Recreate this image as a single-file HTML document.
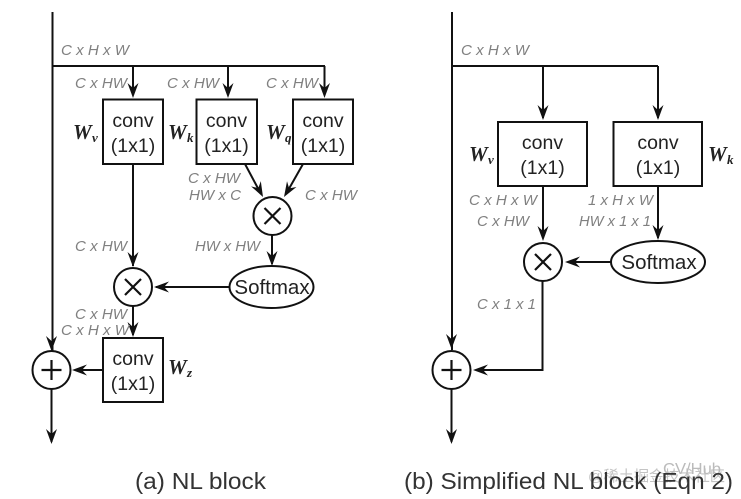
<!DOCTYPE html>
<html><head><meta charset="utf-8">
<style>
html,body{margin:0;padding:0;background:#fff;width:741px;height:499px;overflow:hidden}
svg{display:block}
.l{fill:none;stroke:#111;stroke-width:2}
.b{fill:#fff;stroke:#111;stroke-width:2}
.t{font:19.5px "Liberation Sans",sans-serif;fill:#222;text-anchor:middle}
.m{font:20.5px "Liberation Sans",sans-serif;fill:#222;text-anchor:middle}
.g{font:italic 15px "Liberation Sans",sans-serif;fill:#808080}
.w{font:italic 700 21px "Liberation Serif",serif;fill:#222}
.s{font:italic 700 13px "Liberation Serif",serif;fill:#222}
.c{font:23px "Liberation Sans",sans-serif;fill:#333}
</style></head><body>
<svg width="741" height="499" viewBox="0 0 741 499" xmlns="http://www.w3.org/2000/svg">
<defs>
<path id="a" d="M0 0 L-5.500 -15 L0 -10 L5.500 -15 Z" fill="#111"/>
</defs>
<text x="588" y="481" font-family="'Liberation Sans','Noto Sans CJK SC',sans-serif" font-size="15" fill="#c4c4c4" textLength="137" lengthAdjust="spacingAndGlyphs">@稀土掘金技术社区</text>
<text x="663" y="474" font-family="'Liberation Sans',sans-serif" font-size="16" fill="#bbb" textLength="58" lengthAdjust="spacingAndGlyphs">CV/Hub</text>

<!-- left -->
<path class="l" d="M52.500 12V352M52.500 66H325M133 66V95M228 66V95M324.500 66V95"/>
<use href="#a" transform="translate(133,98)"/>
<use href="#a" transform="translate(228,98)"/>
<use href="#a" transform="translate(324.500,98)"/>
<use href="#a" transform="translate(51.500,351)"/>
<path class="l" d="M51.500 389V442M133 164V266M133 306V335M272 235V264M245 164L261 194M303 164L286 194M230 287H156M103 370H75"/>
<use href="#a" transform="translate(51.500,444)"/>
<use href="#a" transform="translate(133,267)"/>
<use href="#a" transform="translate(133,337)"/>
<use href="#a" transform="translate(272,266)"/>
<use href="#a" transform="translate(263,197) rotate(-28)"/>
<use href="#a" transform="translate(284,197) rotate(31)"/>
<use href="#a" transform="translate(154,287) rotate(90)"/>
<use href="#a" transform="translate(72,370) rotate(90)"/>

<rect class="b" x="103" y="99.500" width="60" height="64.500"/>
<rect class="b" x="196.500" y="99.500" width="60.500" height="64.500"/>
<rect class="b" x="293" y="99.500" width="60" height="64.500"/>
<rect class="b" x="103" y="338" width="60" height="64"/>
<circle class="b" cx="51.500" cy="370" r="19"/>
<circle class="b" cx="133" cy="287" r="19"/>
<circle class="b" cx="272.500" cy="216" r="19"/>
<ellipse class="b" cx="271.500" cy="287" rx="42" ry="21"/>
<path class="l" d="M41.500 370H61.500M51.500 360V380M125 279L141 295M141 279L125 295M264.500 208L280.500 224M280.500 208L264.500 224" style="stroke-width:2.200"/>

<text class="t" x="133" y="127">conv</text><text class="t" x="133" y="152">(1x1)</text>
<text class="t" x="226.500" y="127">conv</text><text class="t" x="226.500" y="152">(1x1)</text>
<text class="t" x="323" y="127">conv</text><text class="t" x="323" y="152">(1x1)</text>
<text class="t" x="133" y="365">conv</text><text class="t" x="133" y="390">(1x1)</text>
<text class="m" x="272" y="294">Softmax</text>

<text class="w" x="73" y="139">W</text><text class="s" x="92" y="142">v</text>
<text class="w" x="168" y="139">W</text><text class="s" x="187" y="142">k</text>
<text class="w" x="266" y="139">W</text><text class="s" x="285" y="142">q</text>
<text class="w" x="168" y="374">W</text><text class="s" x="187" y="377">z</text>

<text class="g" x="61" y="55" textLength="68" lengthAdjust="spacingAndGlyphs">C x H x W</text>
<text class="g" x="75" y="88" textLength="52" lengthAdjust="spacingAndGlyphs">C x HW</text>
<text class="g" x="167" y="88" textLength="52" lengthAdjust="spacingAndGlyphs">C x HW</text>
<text class="g" x="266" y="88" textLength="52" lengthAdjust="spacingAndGlyphs">C x HW</text>
<text class="g" x="188" y="183" textLength="52" lengthAdjust="spacingAndGlyphs">C x HW</text>
<text class="g" x="189" y="200" textLength="52" lengthAdjust="spacingAndGlyphs">HW x C</text>
<text class="g" x="305" y="200" textLength="52" lengthAdjust="spacingAndGlyphs">C x HW</text>
<text class="g" x="75" y="251" textLength="52" lengthAdjust="spacingAndGlyphs">C x HW</text>
<text class="g" x="195" y="251" textLength="65" lengthAdjust="spacingAndGlyphs">HW x HW</text>
<text class="g" x="75" y="319" textLength="52" lengthAdjust="spacingAndGlyphs">C x HW</text>
<text class="g" x="61" y="335" textLength="68" lengthAdjust="spacingAndGlyphs">C x H x W</text>

<text class="c" x="135" y="489" textLength="131" lengthAdjust="spacingAndGlyphs">(a) NL block</text>

<!-- right -->
<path class="l" d="M452 12V350M452 66H658M543 66V118M658 66V118M543 186V238M658 186V238M542.500 281V370H477M451.500 389V442M611 262H570"/>
<use href="#a" transform="translate(543,120)"/>
<use href="#a" transform="translate(658,120)"/>
<use href="#a" transform="translate(543,241)"/>
<use href="#a" transform="translate(658,240)"/>
<use href="#a" transform="translate(451.500,349)"/>
<use href="#a" transform="translate(451.500,444)"/>
<use href="#a" transform="translate(565,262) rotate(90)"/>
<use href="#a" transform="translate(473,370) rotate(90)"/>

<rect class="b" x="498" y="122" width="89" height="64"/>
<rect class="b" x="613.500" y="122" width="88.500" height="64"/>
<circle class="b" cx="451.500" cy="370" r="19"/>
<circle class="b" cx="543" cy="262" r="19"/>
<ellipse class="b" cx="658" cy="262" rx="47" ry="21"/>
<path class="l" d="M441.500 370H461.500M451.500 360V380M535 254L551 270M551 254L535 270" style="stroke-width:2.200"/>

<text class="t" x="542.500" y="149">conv</text><text class="t" x="542.500" y="174">(1x1)</text>
<text class="t" x="658" y="149">conv</text><text class="t" x="658" y="174">(1x1)</text>
<text class="m" x="659" y="269">Softmax</text>

<text class="w" x="469" y="161">W</text><text class="s" x="488" y="164">v</text>
<text class="w" x="708" y="161">W</text><text class="s" x="727" y="164">k</text>

<text class="g" x="461" y="55" textLength="68" lengthAdjust="spacingAndGlyphs">C x H x W</text>
<text class="g" x="469" y="205" textLength="68" lengthAdjust="spacingAndGlyphs">C x H x W</text>
<text class="g" x="477" y="226" textLength="52" lengthAdjust="spacingAndGlyphs">C x HW</text>
<text class="g" x="588" y="205" textLength="65" lengthAdjust="spacingAndGlyphs">1 x H x W</text>
<text class="g" x="579" y="226" textLength="72" lengthAdjust="spacingAndGlyphs">HW x 1 x 1</text>
<text class="g" x="477" y="309" textLength="59" lengthAdjust="spacingAndGlyphs">C x 1 x 1</text>

<text class="c" x="404" y="489" textLength="329" lengthAdjust="spacingAndGlyphs">(b) Simplified NL block (Eqn 2)</text>
</svg>
</body></html>
